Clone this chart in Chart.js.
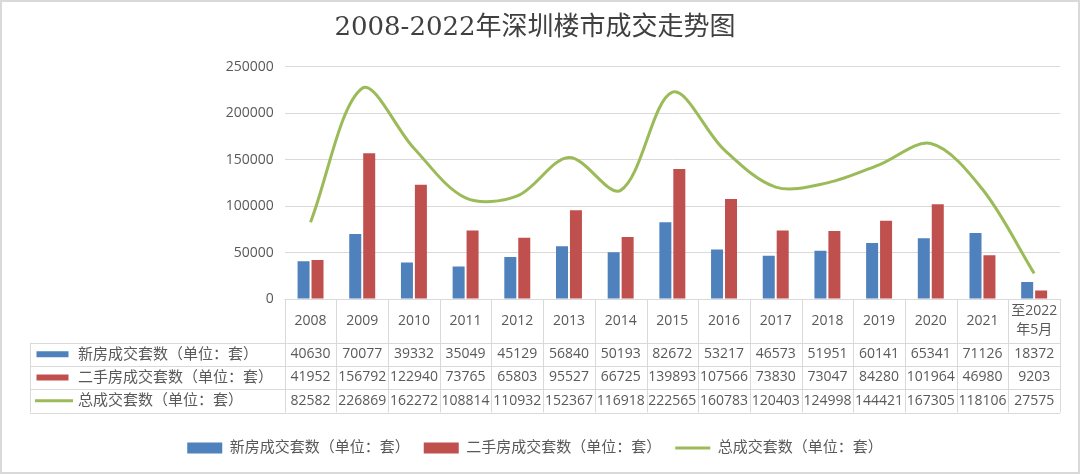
<!DOCTYPE html>
<html lang="zh">
<head>
<meta charset="UTF-8" />
<title>2008-2022年深圳楼市成交走势图</title>
<script src="https://cdn.jsdelivr.net/npm/chart.js"></script>
<style>
  html, body { margin: 0; padding: 0; background: #fff; }
  #wrap { width: 1080px; height: 474px; }
</style>
</head>
<body>
<div id="wrap"><canvas id="chart" width="1080" height="474"></canvas></div>
<script>
// 数据
const years = ["2008", "2009", "2010", "2011", "2012", "2013", "2014", "2015", "2016", "2017", "2018", "2019", "2020", "2021", ["至2022", "年5月"]];
const newHomes = [40630, 70077, 39332, 35049, 45129, 56840, 50193, 82672, 53217, 46573, 51951, 60141, 65341, 71126, 18372];
const resaleHomes = [41952, 156792, 122940, 73765, 65803, 95527, 66725, 139893, 107566, 73830, 73047, 84280, 101964, 46980, 9203];
const totalDeals = [82582, 226869, 162272, 108814, 110932, 152367, 116918, 222565, 160783, 120403, 124998, 144421, 167305, 118106, 27575];
const yTicks = [0, 50000, 100000, 150000, 200000, 250000];

const GREY = "#d9d9d9";
const TEXT = "#595959";
const NUM_FONT = '14px "Open Sans", "Noto Sans CJK SC", sans-serif';
const CJK_FONT = '15px "Open Sans", "Noto Sans CJK SC", sans-serif';

// 背景和外框
const frame = {
    id: "frame",
    beforeDraw(chart) {
        const ctx = chart.ctx;
        ctx.save();
        ctx.fillStyle = "#fff";
        ctx.fillRect(0, 0, chart.width, chart.height);
        ctx.strokeStyle = GREY;
        ctx.lineWidth = 2;
        ctx.strokeRect(1, 1, chart.width - 2, chart.height - 2);
        ctx.restore();
    },
};

// 模拟数据表
const dataTable = {
    id: "dataTable",
    afterDraw(chart) {
        const ctx = chart.ctx;
        const x = chart.scales.x;
        const top = chart.chartArea.bottom;
        const n = chart.data.labels.length;
        const colW = (x.right - x.left) / n;
        const keyLeft = 30;
        const rows = [top + 43.5, top + 67, top + 90, top + 113.5];
        const px = (v) => Math.round(v) + 0.5;

        ctx.save();
        ctx.strokeStyle = GREY;
        ctx.lineWidth = 1;
        ctx.beginPath();
        ctx.moveTo(x.left, px(top));
        ctx.lineTo(x.right, px(top));
        rows.forEach((r) => {
            ctx.moveTo(keyLeft, px(r));
            ctx.lineTo(x.right, px(r));
        });
        for (let i = 0; i <= n; i++) {
            const cx = px(x.left + i * colW);
            ctx.moveTo(cx, top);
            ctx.lineTo(cx, rows[3]);
        }
        ctx.moveTo(px(keyLeft), rows[0]);
        ctx.lineTo(px(keyLeft), rows[3]);
        ctx.stroke();

        ctx.fillStyle = TEXT;
        ctx.textAlign = "center";
        ctx.textBaseline = "middle";
        ctx.font = NUM_FONT;
        chart.data.labels.forEach((lab, i) => {
            const cx = x.getPixelForValue(i);
            if (Array.isArray(lab)) {
                ctx.fillText(lab[0], cx, top + 12.5);
                ctx.fillText(lab[1], cx, top + 31);
            } else {
                ctx.fillText(lab, cx, top + 22);
            }
        });

        chart.data.datasets.forEach((ds, r) => {
            const cy = (rows[r] + rows[r + 1]) / 2;
            ctx.textAlign = "center";
            ctx.font = NUM_FONT;
            ctx.fillStyle = TEXT;
            ds.data.forEach((v, i) => {
                ctx.fillText(String(v), x.getPixelForValue(i), cy);
            });
            // 图例键
            if (ds.type === "line") {
                ctx.strokeStyle = ds.borderColor;
                ctx.lineWidth = 3;
                ctx.beginPath();
                ctx.moveTo(35, cy);
                ctx.lineTo(73, cy);
                ctx.stroke();
            } else {
                ctx.fillStyle = ds.backgroundColor;
                ctx.fillRect(36.5, cy - 3, 32, 6);
            }
            ctx.fillStyle = TEXT;
            ctx.textAlign = "left";
            ctx.font = CJK_FONT;
            ctx.fillText(ds.label, 78, cy);
        });
        ctx.restore();
    },
};

new Chart(document.getElementById("chart"), {
    data: {
        labels: years,
        datasets: [
            {
                type: "bar",
                label: "新房成交套数（单位：套）",
                data: newHomes,
                backgroundColor: "#4f81bd",
                categoryPercentage: 0.54,
                barPercentage: 0.86,
            },
            {
                type: "bar",
                label: "二手房成交套数（单位：套）",
                data: resaleHomes,
                backgroundColor: "#c0504d",
                categoryPercentage: 0.54,
                barPercentage: 0.86,
            },
            {
                type: "line",
                label: "总成交套数（单位：套）",
                data: totalDeals,
                borderColor: "#9bbb59",
                backgroundColor: "#9bbb59",
                borderWidth: 3,
                pointRadius: 0,
                tension: 0.33,
                order: -1,
            },
        ],
    },
    options: {
        responsive: false,
        animation: false,
        layout: { padding: { left: 10, right: 20, top: 0, bottom: 8.5 } },
        plugins: {
            title: {
                display: true,
                text: "2008-2022年深圳楼市成交走势图",
                color: "#404040",
                font: { family: '"DejaVu Serif", "Noto Sans CJK SC", serif', size: 26, weight: "normal" },
                padding: { top: 13, bottom: 22.5 },
            },
            legend: {
                position: "bottom",
                labels: {
                    color: TEXT,
                    font: { family: '"Open Sans", "Noto Sans CJK SC", sans-serif', size: 15 },
                    usePointStyle: true,
                    pointStyleWidth: 35,
                    boxHeight: 11,
                    padding: 14,
                    sort: (a, b) => a.datasetIndex - b.datasetIndex,
                    generateLabels(chart) {
                        const items = Chart.defaults.plugins.legend.labels.generateLabels(chart);
                        items.forEach((it) => {
                            it.pointStyle = chart.data.datasets[it.datasetIndex].type === "line" ? "line" : "rect";
                        });
                        return items;
                    },
                },
            },
            tooltip: { enabled: false },
        },
        scales: {
            x: {
                grid: { display: false },
                border: { display: false },
                ticks: { display: false },
                afterFit(scale) { scale.height = 127.5; },
            },
            y: {
                min: 0,
                max: 250000,
                afterBuildTicks(scale) { scale.ticks = yTicks.map((v) => ({ value: v })); },
                grid: { color: GREY, drawTicks: false },
                border: { display: false },
                ticks: {
                    color: TEXT,
                    padding: 11,
                    font: { family: '"Open Sans", sans-serif', size: 14 },
                    callback: (v) => String(v),
                },
                afterFit(scale) { scale.width = 274.7; },
            },
        },
    },
    plugins: [frame, dataTable],
});
</script>
</body>
</html>
